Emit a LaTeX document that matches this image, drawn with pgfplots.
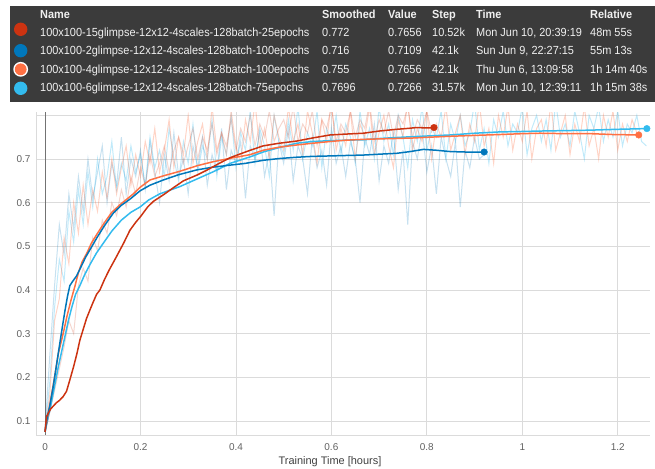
\documentclass[border=0pt]{standalone}
\usepackage{pgfplots}
\pgfplotsset{compat=1.18}
\usepackage{fontspec}
\setmainfont{Liberation Sans}
\newfontfamily\tipfont[FakeStretch=0.93]{Liberation Sans}
\definecolor{cRed}{HTML}{CC3311}
\definecolor{cBlue}{HTML}{0077BB}
\definecolor{cOrange}{HTML}{FF7043}
\definecolor{cCyan}{HTML}{33BBEE}
\definecolor{tipbg}{HTML}{333333}

\begin{document}
\begin{tikzpicture}[x=1bp,y=1bp]
\useasboundingbox (0bp,0bp) rectangle (655bp,469bp);
\begin{axis}[at={(36bp,34bp)}, anchor=south west, scale only axis,
  width=614bp, height=323bp,
  xmin=-0.0189, xmax=1.2676, ymin=0.068, ymax=0.8076,
  xtick={0,0.2,0.4,0.6,0.8,1,1.2},
  xticklabels={0,0.2,0.4,0.6,0.8,1,1.2},
  ytick={0.1,0.2,0.3,0.4,0.5,0.6,0.7,0.8},
  yticklabels={0.1,0.2,0.3,0.4,0.5,0.6,0.7,{}},
  extra x ticks={0}, extra x tick labels={},
  extra x tick style={grid style={draw=black!55, line width=0.9pt}},
  grid=major, grid style={draw=black!14, line width=0.8pt},
  major tick length=0pt,
  axis x line*=bottom, axis y line*=left,
  axis line style={draw=black!14, line width=0.8pt, -},
  /pgf/number format/assume math mode=true,
  tick label style={font=\fontsize{10}{12}\selectfont, text=black!62},
  xticklabel style={yshift=-5bp},
  yticklabel style={xshift=-2bp},
  xlabel={Training Time [hours]},
  xlabel style={font=\fontsize{11}{13}\selectfont, text=black!75, xshift=-13bp, yshift=1bp},
  clip=true,
]
% ---------- raw (unsmoothed) series ----------
\addplot[color=cCyan, opacity=0.3, line width=1pt] coordinates {
(0.00,0.08)(0.01,0.19)(0.02,0.36)(0.03,0.47)(0.04,0.42)(0.05,0.58)(0.06,0.51)(0.07,0.63)(0.08,0.55)(0.09,0.67)
(0.10,0.59)(0.11,0.70)(0.12,0.62)(0.13,0.66)(0.14,0.74)(0.15,0.63)(0.16,0.69)(0.17,0.65)(0.18,0.73)(0.19,0.67)
(0.20,0.71)(0.21,0.64)(0.22,0.75)(0.23,0.68)(0.24,0.72)(0.25,0.66)(0.26,0.77)(0.27,0.70)(0.28,0.65)(0.29,0.74)
(0.30,0.69)(0.31,0.78)(0.32,0.67)(0.33,0.73)(0.34,0.70)(0.35,0.79)(0.36,0.66)(0.37,0.75)(0.38,0.71)(0.39,0.80)
(0.40,0.68)(0.41,0.76)(0.42,0.72)(0.43,0.81)(0.44,0.69)(0.45,0.77)(0.46,0.73)(0.47,0.66)(0.48,0.80)(0.49,0.74)
(0.50,0.71)(0.51,0.79)(0.52,0.72)(0.53,0.82)(0.54,0.70)(0.55,0.76)(0.56,0.73)(0.57,0.81)(0.58,0.68)(0.59,0.77)
(0.60,0.74)(0.61,0.80)(0.62,0.71)(0.63,0.78)(0.64,0.75)(0.65,0.69)(0.66,0.81)(0.67,0.73)(0.68,0.77)(0.69,0.70)
(0.70,0.82)(0.71,0.74)(0.72,0.78)(0.73,0.71)(0.74,0.80)(0.75,0.75)(0.76,0.68)(0.77,0.79)(0.78,0.74)(0.79,0.82)
(0.80,0.72)(0.81,0.77)(0.82,0.75)(0.83,0.81)(0.84,0.70)(0.85,0.78)(0.86,0.74)(0.87,0.80)(0.88,0.73)(0.89,0.76)
(0.90,0.83)(0.91,0.72)(0.92,0.77)(0.93,0.69)(0.94,0.79)(0.95,0.75)(0.96,0.81)(0.97,0.73)(0.98,0.78)(0.99,0.76)
(1.00,0.82)(1.01,0.71)(1.02,0.77)(1.03,0.80)(1.04,0.74)(1.05,0.79)(1.06,0.72)(1.07,0.83)(1.08,0.75)(1.09,0.78)
(1.10,0.73)(1.11,0.81)(1.12,0.76)(1.13,0.70)(1.14,0.80)(1.15,0.77)(1.16,0.82)(1.17,0.74)(1.18,0.79)(1.19,0.75)
(1.20,0.81)(1.21,0.73)(1.22,0.78)(1.23,0.76)(1.24,0.80)(1.25,0.74)(1.26,0.73)};
\addplot[color=cBlue, opacity=0.22, line width=1pt] coordinates {
(0.00,0.08)(0.01,0.25)(0.02,0.41)(0.03,0.55)(0.04,0.48)(0.05,0.62)(0.06,0.54)(0.07,0.66)(0.08,0.58)(0.09,0.70)
(0.10,0.61)(0.11,0.67)(0.12,0.73)(0.13,0.60)(0.14,0.69)(0.15,0.64)(0.16,0.75)(0.17,0.62)(0.18,0.70)(0.19,0.66)
(0.20,0.72)(0.21,0.63)(0.22,0.74)(0.23,0.67)(0.24,0.60)(0.25,0.71)(0.26,0.65)(0.27,0.76)(0.28,0.66)(0.29,0.70)
(0.30,0.62)(0.31,0.73)(0.32,0.68)(0.33,0.75)(0.34,0.64)(0.35,0.71)(0.36,0.67)(0.37,0.77)(0.38,0.63)(0.39,0.72)
(0.40,0.69)(0.41,0.74)(0.42,0.61)(0.43,0.73)(0.44,0.70)(0.45,0.76)(0.46,0.66)(0.47,0.72)(0.48,0.57)(0.49,0.74)
(0.50,0.69)(0.51,0.77)(0.52,0.65)(0.53,0.73)(0.54,0.70)(0.55,0.62)(0.56,0.75)(0.57,0.68)(0.58,0.72)(0.59,0.64)
(0.60,0.77)(0.61,0.69)(0.62,0.73)(0.63,0.66)(0.64,0.74)(0.65,0.70)(0.66,0.60)(0.67,0.75)(0.68,0.71)(0.69,0.78)
(0.70,0.65)(0.71,0.73)(0.72,0.69)(0.73,0.76)(0.74,0.63)(0.75,0.72)(0.76,0.55)(0.77,0.74)(0.78,0.70)(0.79,0.77)
(0.80,0.67)(0.81,0.73)(0.82,0.62)(0.83,0.75)(0.84,0.70)(0.85,0.66)(0.86,0.74)(0.87,0.59)(0.88,0.72)(0.89,0.68)
(0.90,0.75)(0.91,0.70)(0.92,0.71)};
\addplot[color=cOrange, opacity=0.3, line width=1pt] coordinates {
(0.00,0.08)(0.01,0.16)(0.02,0.33)(0.03,0.38)(0.04,0.52)(0.05,0.46)(0.06,0.60)(0.07,0.53)(0.08,0.64)(0.09,0.55)
(0.10,0.63)(0.11,0.58)(0.12,0.67)(0.13,0.61)(0.14,0.70)(0.15,0.62)(0.16,0.68)(0.17,0.73)(0.18,0.64)(0.19,0.71)
(0.20,0.66)(0.21,0.74)(0.22,0.69)(0.23,0.77)(0.24,0.67)(0.25,0.72)(0.26,0.79)(0.27,0.68)(0.28,0.75)(0.29,0.71)
(0.30,0.80)(0.31,0.69)(0.32,0.74)(0.33,0.78)(0.34,0.70)(0.35,0.82)(0.36,0.72)(0.37,0.76)(0.38,0.71)(0.39,0.81)
(0.40,0.73)(0.41,0.69)(0.42,0.79)(0.43,0.74)(0.44,0.83)(0.45,0.72)(0.46,0.77)(0.47,0.70)(0.48,0.80)(0.49,0.75)
(0.50,0.72)(0.51,0.82)(0.52,0.74)(0.53,0.78)(0.54,0.71)(0.55,0.81)(0.56,0.76)(0.57,0.69)(0.58,0.79)(0.59,0.74)
(0.60,0.83)(0.61,0.72)(0.62,0.77)(0.63,0.73)(0.64,0.81)(0.65,0.70)(0.66,0.78)(0.67,0.75)(0.68,0.82)(0.69,0.71)
(0.70,0.76)(0.71,0.80)(0.72,0.73)(0.73,0.68)(0.74,0.79)(0.75,0.75)(0.76,0.83)(0.77,0.72)(0.78,0.77)(0.79,0.74)
(0.80,0.81)(0.81,0.70)(0.82,0.78)(0.83,0.75)(0.84,0.82)(0.85,0.72)(0.86,0.76)(0.87,0.80)(0.88,0.71)(0.89,0.78)
(0.90,0.74)(0.91,0.83)(0.92,0.73)(0.93,0.77)(0.94,0.69)(0.95,0.80)(0.96,0.75)(0.97,0.82)(0.98,0.72)(0.99,0.78)
(1.00,0.74)(1.01,0.81)(1.02,0.70)(1.03,0.77)(1.04,0.79)(1.05,0.73)(1.06,0.83)(1.07,0.72)(1.08,0.76)(1.09,0.80)
(1.10,0.71)(1.11,0.78)(1.12,0.74)(1.13,0.82)(1.14,0.73)(1.15,0.77)(1.16,0.70)(1.17,0.80)(1.18,0.75)(1.19,0.81)
(1.20,0.72)(1.21,0.78)(1.22,0.74)(1.23,0.79)(1.24,0.76)};
\addplot[color=cRed, opacity=0.2, line width=1pt] coordinates {
(0.00,0.08)(0.01,0.12)(0.02,0.17)(0.03,0.22)(0.04,0.27)(0.05,0.33)(0.06,0.30)(0.07,0.41)(0.08,0.45)(0.09,0.42)
(0.10,0.52)(0.11,0.49)(0.12,0.56)(0.13,0.53)(0.14,0.60)(0.15,0.57)(0.16,0.63)(0.17,0.59)(0.18,0.66)(0.19,0.62)
(0.20,0.68)(0.21,0.64)(0.22,0.71)(0.23,0.66)(0.24,0.69)(0.25,0.73)(0.26,0.67)(0.27,0.72)(0.28,0.75)(0.29,0.69)
(0.30,0.73)(0.31,0.77)(0.32,0.70)(0.33,0.75)(0.34,0.72)(0.35,0.78)(0.36,0.71)(0.37,0.76)(0.38,0.73)(0.39,0.79)
(0.40,0.72)(0.41,0.77)(0.42,0.74)(0.43,0.80)(0.44,0.73)(0.45,0.78)(0.46,0.75)(0.47,0.81)(0.48,0.74)(0.49,0.77)
(0.50,0.79)(0.51,0.75)(0.52,0.82)(0.53,0.74)(0.54,0.78)(0.55,0.76)(0.56,0.81)(0.57,0.73)(0.58,0.79)(0.59,0.77)
(0.60,0.82)(0.61,0.74)(0.62,0.78)(0.63,0.76)(0.64,0.81)(0.65,0.75)(0.66,0.79)(0.67,0.77)(0.68,0.83)(0.69,0.74)
(0.70,0.79)(0.71,0.76)(0.72,0.81)(0.73,0.75)(0.74,0.80)(0.75,0.78)(0.76,0.82)(0.77,0.75)(0.78,0.79)(0.79,0.77)
(0.80,0.81)(0.81,0.76)};
% ---------- smoothed series ----------
\addplot[color=cCyan, line width=1.5pt] coordinates {
(0,0.075)(0.005,0.1)(0.012,0.135)(0.02,0.18)(0.028,0.225)(0.036,0.265)(0.043,0.3)(0.049,0.33)(0.056,0.36)
(0.064,0.39)(0.073,0.41)(0.083,0.435)(0.095,0.46)(0.108,0.485)(0.122,0.507)(0.14,0.535)(0.16,0.56)(0.18,0.578)
(0.199,0.59)(0.217,0.606)(0.24,0.62)(0.283,0.637)(0.32,0.655)(0.353,0.671)(0.388,0.69)(0.43,0.705)(0.457,0.716)
(0.49,0.726)(0.527,0.736)(0.56,0.74)(0.597,0.742)(0.63,0.743)(0.667,0.744)(0.702,0.747)(0.75,0.75)(0.807,0.753)
(0.849,0.755)(0.9,0.759)(0.953,0.762)(1.0,0.763)(1.037,0.764)(1.09,0.765)(1.142,0.766)(1.2,0.768)(1.261,0.7696)};
\addplot[color=cOrange, line width=1.5pt] coordinates {
(0,0.075)(0.005,0.105)(0.012,0.15)(0.02,0.2)(0.028,0.255)(0.038,0.3)(0.046,0.34)(0.054,0.375)(0.063,0.41)
(0.07,0.44)(0.078,0.465)(0.088,0.485)(0.097,0.507)(0.11,0.53)(0.125,0.555)(0.14,0.578)(0.16,0.598)(0.185,0.62)
(0.199,0.635)(0.22,0.652)(0.25,0.662)(0.283,0.672)(0.32,0.685)(0.353,0.694)(0.39,0.702)(0.43,0.71)(0.457,0.72)
(0.49,0.727)(0.527,0.732)(0.56,0.736)(0.597,0.74)(0.63,0.743)(0.667,0.745)(0.7,0.746)(0.737,0.747)(0.77,0.748)
(0.807,0.75)(0.849,0.752)(0.9,0.754)(0.953,0.756)(1.0,0.758)(1.037,0.759)(1.09,0.758)(1.142,0.758)(1.19,0.756)(1.244,0.755)};
\addplot[color=cBlue, line width=1.5pt] coordinates {
(0,0.075)(0.005,0.11)(0.01,0.135)(0.017,0.178)(0.024,0.228)(0.031,0.278)(0.037,0.32)(0.042,0.354)(0.047,0.385)
(0.052,0.41)(0.058,0.42)(0.066,0.432)(0.075,0.452)(0.085,0.475)(0.094,0.492)(0.11,0.522)(0.125,0.548)(0.143,0.576)
(0.16,0.594)(0.178,0.608)(0.199,0.627)(0.22,0.64)(0.248,0.652)(0.28,0.664)(0.318,0.675)(0.35,0.681)(0.388,0.686)
(0.42,0.69)(0.457,0.697)(0.49,0.701)(0.527,0.704)(0.56,0.706)(0.597,0.707)(0.63,0.708)(0.667,0.709)(0.7,0.711)
(0.737,0.713)(0.765,0.717)(0.793,0.722)(0.82,0.72)(0.849,0.717)(0.88,0.716)(0.92,0.716)};
\addplot[color=cRed, line width=1.5pt] coordinates {
(0,0.075)(0.003,0.11)(0.007,0.118)(0.012,0.128)(0.018,0.135)(0.024,0.142)(0.03,0.147)(0.038,0.156)(0.045,0.168)
(0.052,0.194)(0.06,0.225)(0.067,0.255)(0.073,0.285)(0.08,0.31)(0.087,0.335)(0.094,0.354)(0.1,0.37)(0.108,0.39)
(0.115,0.40)(0.125,0.425)(0.135,0.447)(0.15,0.477)(0.165,0.508)(0.178,0.537)(0.19,0.555)(0.2,0.568)(0.215,0.59)
(0.227,0.603)(0.248,0.618)(0.27,0.635)(0.29,0.65)(0.318,0.663)(0.34,0.675)(0.365,0.69)(0.388,0.703)(0.41,0.712)
(0.43,0.72)(0.457,0.73)(0.49,0.736)(0.527,0.741)(0.56,0.748)(0.597,0.755)(0.63,0.757)(0.667,0.759)(0.7,0.764)
(0.737,0.768)(0.76,0.77)(0.779,0.772)(0.8,0.771)(0.815,0.772)};
% ---------- end markers ----------
\addplot[only marks, mark=*, mark size=3.3pt, color=cRed] coordinates {(0.815,0.772)};
\addplot[only marks, mark=*, mark size=3.3pt, color=cBlue] coordinates {(0.92,0.716)};
\addplot[only marks, mark=*, mark size=3.3pt, color=cOrange] coordinates {(1.244,0.755)};
\addplot[only marks, mark=*, mark size=3.3pt, color=cCyan] coordinates {(1.261,0.7696)};
\end{axis}
% ---------- tooltip ----------
\fill[tipbg, opacity=0.96] (10bp,367bp) rectangle (655bp,463bp);
\fill[cRed] (20.7bp,439.7bp) circle (6.7bp);
\fill[cBlue] (20.7bp,418.3bp) circle (6.7bp);
\fill[white] (20.7bp,399.7bp) circle (7.4bp);
\fill[cOrange] (20.7bp,399.7bp) circle (5.9bp);
\fill[cCyan] (20.7bp,380.7bp) circle (6.7bp);
\begin{scope}[every node/.style={anchor=base west, inner sep=0pt, text=white!94!black, font=\tipfont\fontsize{11.8}{14}\selectfont}]
\node[font=\tipfont\bfseries\fontsize{11.8}{14}\selectfont] at (40bp,450bp) {Name};
\node[font=\tipfont\bfseries\fontsize{11.8}{14}\selectfont] at (322bp,450bp) {Smoothed};
\node[font=\tipfont\bfseries\fontsize{11.8}{14}\selectfont] at (388bp,450bp) {Value};
\node[font=\tipfont\bfseries\fontsize{11.8}{14}\selectfont] at (432bp,450bp) {Step};
\node[font=\tipfont\bfseries\fontsize{11.8}{14}\selectfont] at (476bp,450bp) {Time};
\node[font=\tipfont\bfseries\fontsize{11.8}{14}\selectfont] at (590bp,450bp) {Relative};
\node at (40bp,432bp) {100x100-15glimpse-12x12-4scales-128batch-25epochs};
\node at (322bp,432bp) {0.772};
\node at (388bp,432bp) {0.7656};
\node at (432bp,432bp) {10.52k};
\node at (476bp,432bp) {Mon Jun 10, 20:39:19};
\node at (590bp,432bp) {48m 55s};
\node at (40bp,414bp) {100x100-2glimpse-12x12-4scales-128batch-100epochs};
\node at (322bp,414bp) {0.716};
\node at (388bp,414bp) {0.7109};
\node at (432bp,414bp) {42.1k};
\node at (476bp,414bp) {Sun Jun 9, 22:27:15};
\node at (590bp,414bp) {55m 13s};
\node at (40bp,395bp) {100x100-4glimpse-12x12-4scales-128batch-100epochs};
\node at (322bp,395bp) {0.755};
\node at (388bp,395bp) {0.7656};
\node at (432bp,395bp) {42.1k};
\node at (476bp,395bp) {Thu Jun 6, 13:09:58};
\node at (590bp,395bp) {1h 14m 40s};
\node at (40bp,377bp) {100x100-6glimpse-12x12-4scales-128batch-75epochs};
\node at (322bp,377bp) {0.7696};
\node at (388bp,377bp) {0.7266};
\node at (432bp,377bp) {31.57k};
\node at (476bp,377bp) {Mon Jun 10, 12:39:11};
\node at (590bp,377bp) {1h 15m 38s};
\end{scope}
\end{tikzpicture}
\end{document}
